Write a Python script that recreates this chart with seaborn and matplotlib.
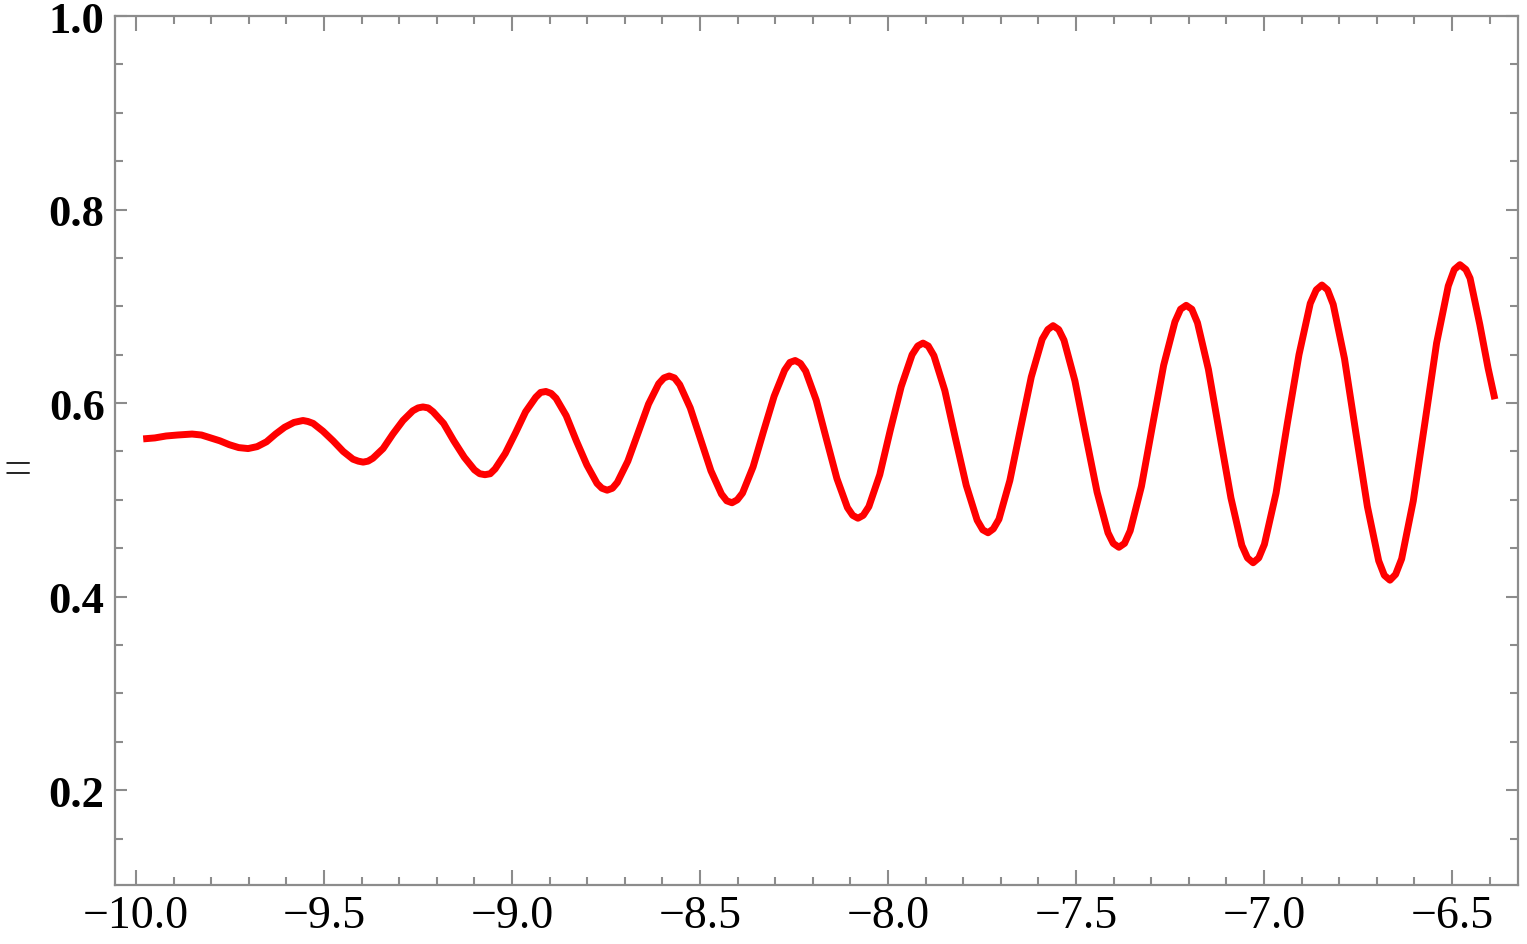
import matplotlib
matplotlib.use("Agg")
import matplotlib.pyplot as plt
from matplotlib.ticker import MultipleLocator
import seaborn as sns

# Curve readings (x, y)
x_vals = [
    -9.981, -9.95, -9.92, -9.89,
    -9.851, -9.826, -9.801, -9.777, -9.752, -9.727,
    -9.702, -9.678, -9.653, -9.629, -9.605, -9.580,
    -9.556, -9.543, -9.529, -9.503, -9.476, -9.449, -9.423, -9.409,
    -9.396, -9.383, -9.370, -9.343, -9.317, -9.290, -9.264, -9.250,
    -9.237, -9.223, -9.210, -9.182, -9.155, -9.127, -9.100, -9.086,
    -9.072, -9.058, -9.045, -9.018, -8.991, -8.964, -8.937, -8.924,
    -8.910, -8.896, -8.883, -8.856, -8.829, -8.801, -8.774, -8.761,
    -8.747, -8.733, -8.720, -8.692, -8.665, -8.637, -8.610, -8.596,
    -8.582, -8.568, -8.554, -8.526, -8.499, -8.471, -8.443, -8.429,
    -8.415, -8.401, -8.387, -8.359, -8.331, -8.303, -8.275, -8.261,
    -8.247, -8.233, -8.219, -8.191, -8.164, -8.136, -8.108, -8.094,
    -8.080, -8.066, -8.051, -8.022, -7.994, -7.965, -7.936, -7.921,
    -7.907, -7.893, -7.878, -7.849, -7.821, -7.792, -7.763, -7.748,
    -7.734, -7.720, -7.705, -7.676, -7.648, -7.619, -7.590, -7.575,
    -7.561, -7.546, -7.532, -7.503, -7.474, -7.444, -7.415, -7.401,
    -7.386, -7.371, -7.356, -7.326, -7.297, -7.267, -7.237, -7.222,
    -7.207, -7.192, -7.177, -7.148, -7.118, -7.088, -7.059, -7.044,
    -7.029, -7.014, -6.999, -6.968, -6.938, -6.907, -6.877, -6.861,
    -6.846, -6.831, -6.816, -6.786, -6.756, -6.725, -6.695, -6.680,
    -6.665, -6.650, -6.634, -6.603, -6.572, -6.541, -6.510, -6.494,
    -6.479, -6.463, -6.452, -6.426, -6.404, -6.386,
]
y_vals = [
    0.563, 0.564, 0.566, 0.567,
    0.568, 0.567, 0.564, 0.561, 0.557, 0.554,
    0.553, 0.555, 0.560, 0.568, 0.575, 0.580,
    0.582, 0.581, 0.579, 0.571, 0.561, 0.550, 0.542, 0.540,
    0.539, 0.540, 0.543, 0.553, 0.568, 0.582, 0.592, 0.595,
    0.596, 0.595, 0.591, 0.579, 0.561, 0.544, 0.531, 0.527,
    0.526, 0.527, 0.532, 0.548, 0.569, 0.591, 0.606, 0.611,
    0.612, 0.610, 0.605, 0.587, 0.561, 0.536, 0.517, 0.512,
    0.510, 0.512, 0.518, 0.540, 0.569, 0.599, 0.620, 0.626,
    0.628, 0.626, 0.619, 0.595, 0.563, 0.530, 0.506, 0.499,
    0.497, 0.500, 0.507, 0.534, 0.571, 0.607, 0.634, 0.642,
    0.644, 0.641, 0.633, 0.603, 0.563, 0.522, 0.492, 0.484,
    0.481, 0.484, 0.493, 0.526, 0.572, 0.617, 0.650, 0.659,
    0.662, 0.659, 0.649, 0.613, 0.564, 0.515, 0.479, 0.469,
    0.466, 0.470, 0.480, 0.520, 0.573, 0.627, 0.666, 0.676,
    0.680, 0.676, 0.665, 0.623, 0.566, 0.508, 0.466, 0.455,
    0.451, 0.455, 0.468, 0.514, 0.576, 0.639, 0.684, 0.697,
    0.701, 0.697, 0.683, 0.635, 0.568, 0.502, 0.453, 0.440,
    0.435, 0.440, 0.454, 0.507, 0.579, 0.650, 0.703, 0.717,
    0.722, 0.717, 0.702, 0.646, 0.570, 0.493, 0.437, 0.422,
    0.417, 0.423, 0.439, 0.499, 0.580, 0.662, 0.721, 0.738,
    0.743, 0.738, 0.729, 0.681, 0.636, 0.604,
]

x_ticks = [-10.0, -9.5, -9.0, -8.5, -8.0, -7.5, -7.0, -6.5]
x_tick_labels = ["\u221210.0", "\u22129.5", "\u22129.0", "\u22128.5",
                 "\u22128.0", "\u22127.5", "\u22127.0", "\u22126.5"]
y_ticks = [0.2, 0.4, 0.6, 0.8, 1.0]
y_tick_labels = ["0.2", "0.4", "0.6", "0.8", "1.0"]
y_label_text = "="

sns.set_style("ticks")
plt.rcParams["font.family"] = ["Liberation Serif", "DejaVu Serif"]

fig = plt.figure(figsize=(15.27, 9.45), dpi=100)
ax = fig.add_axes([115 / 1527, 1 - 886 / 945, (1518 - 115) / 1527, (886 - 17) / 945])

sns.lineplot(x=x_vals, y=y_vals, sort=False, color="#ff0000", linewidth=5.0,
             ax=ax, solid_joinstyle="round", solid_capstyle="butt")

ax.set_xlim(-10.056, -6.3245)
ax.set_ylim(0.102, 1.0)

ax.set_xticks(x_ticks)
ax.set_xticklabels(x_tick_labels, fontsize=33)
ax.set_yticks(y_ticks)
ax.set_yticklabels(y_tick_labels, fontsize=32, fontweight="bold")
ax.xaxis.set_minor_locator(MultipleLocator(0.1))
ax.yaxis.set_minor_locator(MultipleLocator(0.05))

tick_color = "#8c8c8c"
ax.tick_params(which="both", direction="in", top=True, right=True,
               color=tick_color, width=1.5, labelcolor="black")
ax.tick_params(axis="x", which="major", length=11, pad=7)
ax.tick_params(axis="x", which="minor", length=6)
ax.tick_params(axis="y", which="major", length=8.5, pad=7.5)
ax.tick_params(axis="y", which="minor", length=6)

for s in ax.spines.values():
    s.set_visible(True)
    s.set_color(tick_color)
    s.set_linewidth(1.6)

ax.set_xlabel("")
ax.set_ylabel("")
fig.text(0.002, 1 - 472 / 945, y_label_text, fontsize=36,
         ha="left", va="center")

fig.savefig("out.png", dpi=100, facecolor="white")
